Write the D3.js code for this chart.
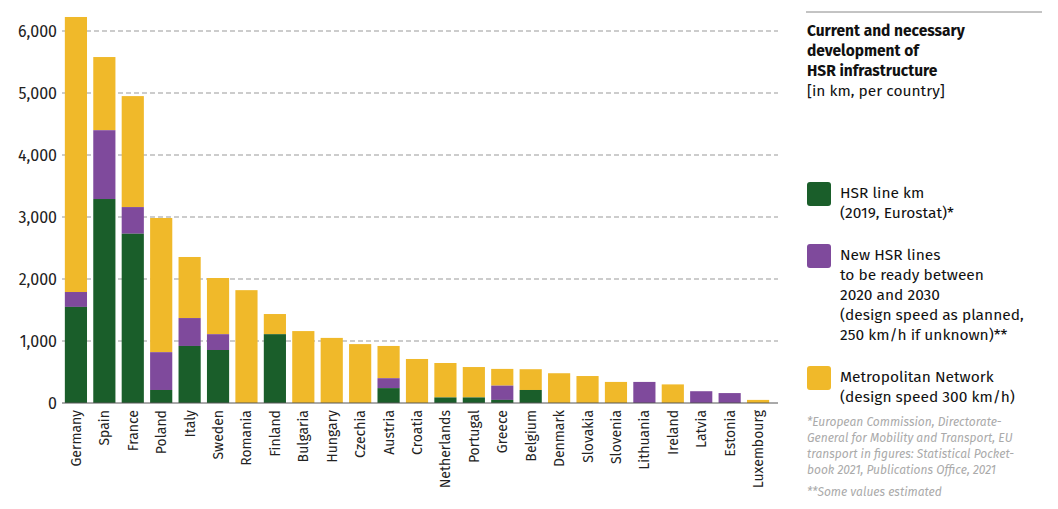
<!DOCTYPE html><html><head><meta charset="utf-8"><script src="https://cdn.jsdelivr.net/npm/d3@7"></script>
<style>body{margin:0;background:#fff}text{font-family:"Fira Sans","Open Sans","Noto Sans",sans-serif}</style></head><body><svg id="c" width="1058" height="509"></svg>
<script>
const countries=["Germany","Spain","France","Poland","Italy","Sweden","Romania","Finland","Bulgaria","Hungary","Czechia","Austria","Croatia","Netherlands","Portugal","Greece","Belgium","Denmark","Slovakia","Slovenia","Lithuania","Ireland","Latvia","Estonia","Luxembourg"];
const hsr=[1550,3290,2730,210,920,855,0,1110,0,0,0,240,0,90,90,50,210,0,0,0,0,0,0,0,0];
const newHsr=[240,1110,430,610,450,255,0,0,0,0,0,160,0,0,0,230,0,0,0,0,340,0,190,160,0];
const totals=[6226,5580,4950,2984,2355,2016,1820,1435,1160,1050,950,920,710,645,580,550,545,480,435,340,340,300,190,160,50];
const yTicks=[0,1000,2000,3000,4000,5000,6000];
const colors={hsr:"#1a5e2a",nw:"#7f4a9c",metro:"#f0b92a"};
const svg=d3.select("#c");
const x=d3.scaleBand().domain(countries).range([62,772]).paddingInner(0.22).paddingOuter(0.1);
const y=d3.scaleLinear().domain([0,6000]).range([403,31]);
const g=svg.append("g");
yTicks.forEach(t=>{
 if(t>0) g.append("line").attr("x1",62).attr("x2",778).attr("y1",y(t)).attr("y2",y(t)).attr("stroke","#999").attr("stroke-dasharray","5,3");
 g.append("text").attr("x",57).attr("y",y(t)+6).attr("text-anchor","end").attr("font-size",16).attr("fill","#222").text(d3.format(",")(t));
});
countries.forEach((c,i)=>{
 const h=hsr[i],n=newHsr[i],t=totals[i];
 g.append("rect").attr("x",x(c)).attr("width",x.bandwidth()).attr("y",y(t)).attr("height",y(h+n)-y(t)).attr("fill",colors.metro);
 if(n) g.append("rect").attr("x",x(c)).attr("width",x.bandwidth()).attr("y",y(h+n)).attr("height",y(h)-y(h+n)).attr("fill",colors.nw);
 if(h) g.append("rect").attr("x",x(c)).attr("width",x.bandwidth()).attr("y",y(h)).attr("height",y(0)-y(h)).attr("fill",colors.hsr);
 g.append("text").attr("transform",`translate(${x(c)+x.bandwidth()/2+5},410) rotate(-90)`).attr("text-anchor","end").attr("font-size",14).attr("fill","#222").text(c);
});
g.append("line").attr("x1",62).attr("x2",778).attr("y1",403).attr("y2",403).attr("stroke","#555");
svg.append("line").attr("x1",806).attr("x2",1042).attr("y1",12).attr("y2",12).attr("stroke","#888");
const tt=["Current and necessary","development of","HSR infrastructure"];
tt.forEach((s,i)=>svg.append("text").attr("x",807).attr("y",36+i*20).attr("font-size",15.5).attr("font-weight","bold").attr("fill","#111").text(s));
svg.append("text").attr("x",807).attr("y",96).attr("font-size",15.5).attr("fill","#111").text("[in km, per country]");
const leg=[[colors.hsr,182,["HSR line km","(2019, Eurostat)*"]],[colors.nw,244,["New HSR lines","to be ready between","2020 and 2030","(design speed as planned,","250 km/h if unknown)**"]],[colors.metro,366,["Metropolitan Network","(design speed 300 km/h)"]]];
leg.forEach(([col,yy,lines])=>{
 svg.append("rect").attr("x",807).attr("y",yy).attr("width",24).attr("height",24).attr("rx",3).attr("fill",col);
 lines.forEach((s,i)=>svg.append("text").attr("x",840).attr("y",yy+16+i*20).attr("font-size",15.5).attr("fill","#111").text(s));
});
["*European Commission, Directorate-","General for Mobility and Transport, EU","transport in figures: Statistical Pocket-","book 2021, Publications Office, 2021"].forEach((s,i)=>svg.append("text").attr("x",807).attr("y",426+i*16).attr("font-size",12).attr("font-style","italic").attr("fill","#aaa").text(s));
svg.append("text").attr("x",807).attr("y",496).attr("font-size",12).attr("font-style","italic").attr("fill","#aaa").text("**Some values estimated");
</script></body></html>
